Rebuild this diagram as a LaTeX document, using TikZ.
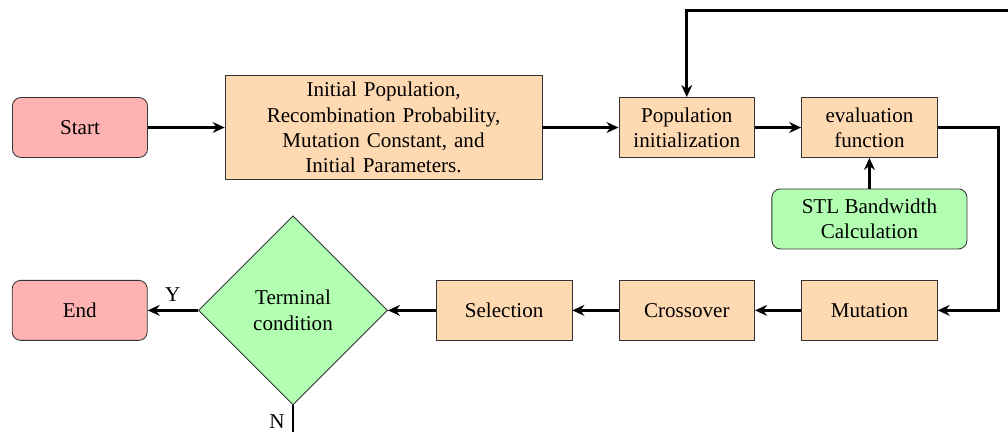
\documentclass[tikz,border=0pt]{standalone}
\usepackage{fontspec}
\setmainfont{Liberation Serif}
\usepackage{tikz}
\usetikzlibrary{arrows.meta,positioning,shapes.geometric}
\definecolor{startred}{rgb}{1,0.70,0.70}
\definecolor{procorange}{rgb}{1,0.85,0.70}
\definecolor{calcgreen}{rgb}{0.70,1,0.70}
\tikzset{
  terminal/.style={
    rounded corners=4pt,
    draw=black!80,
    fill=startred,
    align=center,
    minimum width=2.25cm,
    minimum height=1cm
  },
  process/.style={
    draw=black!80,
    fill=procorange,
    align=center,
    minimum width=2.26cm,
    minimum height=1cm
  },
  paramsbox/.style={
    draw=black!80,
    fill=procorange,
    align=center,
    text width=5cm,
    minimum width=5.28cm,
    minimum height=1.74cm,
    inner ysep=2pt
  },
  calcbox/.style={
    rounded corners=4pt,
    draw=black!80,
    fill=calcgreen,
    align=center,
    minimum width=3.25cm,
    minimum height=1cm
  },
  decision/.style={
    diamond,
    draw=black!80,
    fill=calcgreen,
    align=center,
    inner sep=0pt,
    minimum width=3.15cm,
    minimum height=3.15cm
  },
  link/.style={
    line width=1.4pt
  },
  arrow/.style={
    link,
    -{Stealth[length=2mm,width=1.8mm]}
  }
}

\begin{document}
\begin{tikzpicture}[node distance=.51cm and .77cm]
\useasboundingbox (0,0) rectangle (16.8,-7.2);
% top row
\node[terminal] (start) at (1.333,-2.125) {Start};
\node[paramsbox, right=1.28cm of start] (init) {Initial Population,\\Recombination Probability,\\Mutation Constant, and\\Initial Parameters.};
\node[process, right=1.27cm of init] (pop) {Population\\initialization};
\node[process, right=of pop] (eval) {evaluation\\function};
\node[calcbox, below=of eval] (stl) {STL Bandwidth\\Calculation};
% bottom row
\node[process, below=of stl] (mut) {Mutation};
\node[process, left=of mut] (cross) {Crossover};
\node[process, left=of cross] (sel) {Selection};
\node[decision, left=.8cm of sel] (cond) {Terminal\\condition};
\node[terminal, left=.84cm of cond] (finish) {End};
\coordinate (loopin) at (17.5,-0.183);
\coordinate[below=1cm of cond.south] (nout);

\draw[arrow] (start) -- (init);
\draw[arrow] (init) -- (pop);
\draw[arrow] (pop) -- (eval);
\draw[arrow] (stl) -- (eval);
\draw[arrow] (loopin) -| (pop.north);
\draw[arrow] (eval.east) -- ++(1.02,0) |- (mut.east);
\draw[arrow] (mut) -- (cross);
\draw[arrow] (cross) -- (sel);
\draw[arrow] (sel) -- (cond);
\draw[arrow] (cond.west) -- node[above] {Y} (finish.east);
\draw[link] (cond.south) -- node[left, pos=.27] {N} (nout);
\end{tikzpicture}
\end{document}
